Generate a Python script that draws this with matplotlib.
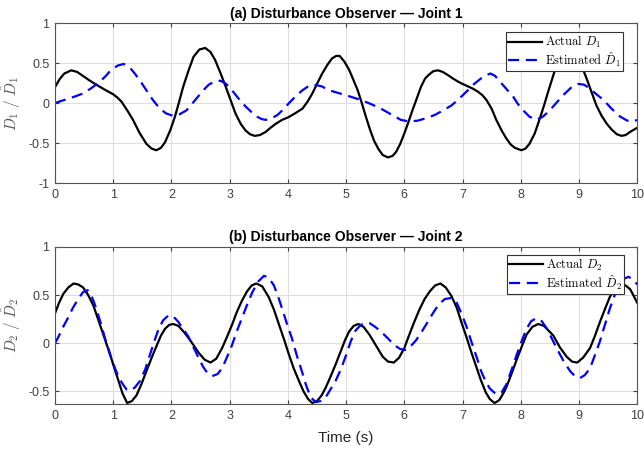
import matplotlib.pyplot as plt
import numpy as np

plt.rcParams['font.family'] = ['Liberation Sans', 'DejaVu Sans']
plt.rcParams['mathtext.fontset'] = 'cm'

# Joint 1: actual and estimated disturbance (time in s, value)
t_d1 = [0, 0.08, 0.16, 0.28, 0.38, 0.48, 0.6, 0.71, 0.85, 1.0, 1.07, 1.14, 1.24,
        1.34, 1.45, 1.57, 1.66, 1.74, 1.82, 1.89, 1.98, 2.06, 2.13, 2.2, 2.29,
        2.38, 2.48, 2.58, 2.67, 2.75, 2.84, 2.93, 3.02, 3.1, 3.19, 3.27, 3.35,
        3.43, 3.52, 3.62, 3.7, 3.79, 3.9, 4.0, 4.12, 4.25, 4.34, 4.42, 4.5,
        4.59, 4.68, 4.76, 4.83, 4.89, 4.97, 5.05, 5.12, 5.2, 5.27, 5.34, 5.41,
        5.48, 5.56, 5.63, 5.72, 5.8, 5.86, 5.93, 6.0, 6.07, 6.14, 6.22, 6.29,
        6.36, 6.43, 6.5, 6.58, 6.66, 6.75, 6.83, 6.92, 7.0, 7.09, 7.18, 7.27,
        7.34, 7.41, 7.5, 7.58, 7.67, 7.75, 7.83, 7.9, 8.01, 8.08, 8.15, 8.24,
        8.32, 8.4, 8.47, 8.53, 8.59, 8.66, 8.74, 8.82, 8.9, 8.98, 9.05, 9.13,
        9.22, 9.3, 9.39, 9.48, 9.56, 9.65, 9.73, 9.8, 9.88, 9.95, 10.0]
d1 = [0.20, 0.30, 0.37, 0.41, 0.39, 0.34, 0.28, 0.23, 0.17, 0.11, 0.07, 0.02,
      -0.09, -0.21, -0.37, -0.51, -0.57, -0.59, -0.56, -0.49, -0.34, -0.17,
      0.01, 0.20, 0.40, 0.58, 0.67, 0.69, 0.64, 0.54, 0.38, 0.21, 0.03, -0.13,
      -0.26, -0.34, -0.39, -0.41, -0.40, -0.36, -0.31, -0.26, -0.21, -0.18,
      -0.13, -0.07, 0.02, 0.12, 0.24, 0.37, 0.48, 0.56, 0.59, 0.59, 0.52, 0.42,
      0.30, 0.16, 0.00, -0.17, -0.33, -0.47, -0.58, -0.65, -0.68, -0.66, -0.61,
      -0.51, -0.38, -0.24, -0.09, 0.07, 0.21, 0.31, 0.36, 0.40, 0.41, 0.39,
      0.35, 0.31, 0.27, 0.24, 0.21, 0.18, 0.14, 0.10, 0.04, -0.07, -0.21,
      -0.34, -0.44, -0.52, -0.56, -0.59, -0.57, -0.51, -0.38, -0.21, -0.03,
      0.14, 0.28, 0.42, 0.54, 0.63, 0.67, 0.66, 0.58, 0.46, 0.31, 0.13, -0.03,
      -0.16, -0.26, -0.33, -0.39, -0.41, -0.40, -0.36, -0.33, -0.31]

t_d1_hat = [0, 0.12, 0.25, 0.37, 0.48, 0.61, 0.74, 0.86, 0.97, 1.08, 1.18, 1.28,
            1.37, 1.47, 1.57, 1.68, 1.8, 1.91, 2.03, 2.14, 2.26, 2.34, 2.41,
            2.49, 2.56, 2.64, 2.74, 2.84, 2.94, 3.04, 3.15, 3.27, 3.37, 3.47,
            3.55, 3.62, 3.72, 3.82, 3.92, 4.02, 4.14, 4.25, 4.35, 4.45, 4.58,
            4.71, 4.85, 4.99, 5.12, 5.25, 5.42, 5.6, 5.77, 5.94, 6.08, 6.23,
            6.37, 6.52, 6.67, 6.81, 6.95, 7.09, 7.2, 7.32, 7.41, 7.48, 7.56,
            7.64, 7.75, 7.87, 7.95, 8.04, 8.15, 8.27, 8.38, 8.5, 8.62, 8.73,
            8.86, 8.99, 9.09, 9.19, 9.3, 9.42, 9.56, 9.71, 9.83, 9.94, 10.0]
d1_hat = [0.0, 0.03, 0.06, 0.09, 0.12, 0.18, 0.25, 0.33, 0.42, 0.47, 0.49,
          0.45, 0.37, 0.27, 0.16, 0.04, -0.07, -0.13, -0.16, -0.14, -0.09,
          -0.02, 0.04, 0.11, 0.17, 0.23, 0.27, 0.28, 0.24, 0.16, 0.06, -0.04,
          -0.11, -0.17, -0.20, -0.21, -0.19, -0.15, -0.08, 0.0, 0.09, 0.16,
          0.21, 0.23, 0.21, 0.16, 0.13, 0.10, 0.07, 0.04, -0.01, -0.07, -0.14,
          -0.21, -0.23, -0.22, -0.19, -0.15, -0.09, -0.03, 0.06, 0.16, 0.24,
          0.31, 0.35, 0.37, 0.34, 0.27, 0.18, 0.08, -0.01, -0.09, -0.17, -0.21,
          -0.17, -0.09, 0.01, 0.10, 0.19, 0.24, 0.23, 0.18, 0.11, 0.04, -0.07,
          -0.17, -0.22, -0.23, -0.21]

# Joint 2: actual and estimated disturbance
t_d2 = [0, 0.07, 0.14, 0.23, 0.32, 0.4, 0.48, 0.57, 0.66, 0.74, 0.83, 0.92, 1.0,
        1.08, 1.16, 1.24, 1.32, 1.4, 1.48, 1.57, 1.66, 1.75, 1.82, 1.89, 1.96,
        2.03, 2.12, 2.21, 2.3, 2.38, 2.47, 2.57, 2.67, 2.77, 2.87, 2.95, 3.04,
        3.12, 3.21, 3.3, 3.38, 3.46, 3.56, 3.67, 3.76, 3.85, 3.94, 4.02, 4.1,
        4.19, 4.27, 4.35, 4.42, 4.5, 4.58, 4.65, 4.73, 4.82, 4.91, 4.98, 5.05,
        5.13, 5.21, 5.3, 5.4, 5.5, 5.63, 5.72, 5.82, 5.91, 6.0, 6.08, 6.17,
        6.26, 6.35, 6.44, 6.53, 6.62, 6.71, 6.81, 6.9, 6.98, 7.07, 7.15, 7.24,
        7.32, 7.4, 7.47, 7.55, 7.63, 7.7, 7.75, 7.84, 7.93, 8.02, 8.1, 8.2, 8.3,
        8.4, 8.48, 8.56, 8.67, 8.79, 8.88, 8.97, 9.07, 9.19, 9.27, 9.36, 9.45,
        9.53, 9.62, 9.71, 9.8, 9.88, 9.95, 10.0]
d2 = [0.31, 0.42, 0.51, 0.58, 0.62, 0.61, 0.58, 0.50, 0.39, 0.25, 0.09, -0.07,
      -0.22, -0.37, -0.52, -0.62, -0.60, -0.54, -0.43, -0.29, -0.15, -0.02,
      0.08, 0.15, 0.19, 0.20, 0.18, 0.12, 0.05, -0.02, -0.10, -0.17, -0.20,
      -0.16, -0.05, 0.06, 0.19, 0.32, 0.44, 0.54, 0.60, 0.62, 0.59, 0.48, 0.35,
      0.19, 0.03, -0.12, -0.26, -0.39, -0.50, -0.58, -0.62, -0.60, -0.54,
      -0.46, -0.35, -0.22, -0.08, 0.03, 0.12, 0.18, 0.20, 0.17, 0.09, -0.01,
      -0.14, -0.19, -0.20, -0.15, -0.05, 0.08, 0.22, 0.35, 0.46, 0.54, 0.60,
      0.62, 0.58, 0.49, 0.37, 0.22, 0.06, -0.09, -0.25, -0.39, -0.51, -0.58,
      -0.62, -0.59, -0.52, -0.46, -0.32, -0.17, -0.03, 0.09, 0.17, 0.20, 0.18,
      0.13, 0.08, -0.04, -0.14, -0.19, -0.20, -0.15, -0.05, 0.07, 0.22, 0.36,
      0.48, 0.57, 0.62, 0.60, 0.56, 0.48, 0.42]

t_d2_hat = [0, 0.07, 0.14, 0.22, 0.31, 0.4, 0.48, 0.56, 0.62, 0.68, 0.77, 0.86,
            0.95, 1.03, 1.1, 1.17, 1.23, 1.29, 1.37, 1.46, 1.55, 1.63, 1.7,
            1.78, 1.86, 1.95, 2.03, 2.12, 2.2, 2.29, 2.35, 2.41, 2.48, 2.55,
            2.62, 2.7, 2.79, 2.87, 2.95, 3.04, 3.12, 3.21, 3.3, 3.39, 3.49,
            3.59, 3.67, 3.76, 3.83, 3.9, 3.98, 4.07, 4.15, 4.24, 4.31, 4.39,
            4.48, 4.56, 4.65, 4.73, 4.82, 4.91, 4.99, 5.08, 5.16, 5.25, 5.32,
            5.4, 5.5, 5.6, 5.72, 5.83, 5.93, 6.03, 6.11, 6.2, 6.3, 6.4, 6.5,
            6.6, 6.7, 6.81, 6.9, 6.98, 7.07, 7.15, 7.24, 7.32, 7.4, 7.47, 7.58,
            7.67, 7.75, 7.84, 7.93, 8.02, 8.1, 8.18, 8.27, 8.36, 8.45, 8.55,
            8.65, 8.75, 8.85, 8.93, 9.02, 9.1, 9.19, 9.27, 9.36, 9.45, 9.53,
            9.62, 9.71, 9.78, 9.85, 9.93, 10.0]
d2_hat = [0.0, 0.08, 0.17, 0.26, 0.37, 0.46, 0.53, 0.55, 0.50, 0.41, 0.24,
          0.05, -0.12, -0.26, -0.36, -0.43, -0.48, -0.49, -0.46, -0.39, -0.27,
          -0.12, 0.01, 0.15, 0.24, 0.29, 0.28, 0.22, 0.15, 0.07, -0.01, -0.08,
          -0.17, -0.25, -0.31, -0.34, -0.32, -0.26, -0.15, -0.02, 0.12, 0.26,
          0.40, 0.53, 0.64, 0.70, 0.68, 0.60, 0.49, 0.36, 0.21, 0.05, -0.12,
          -0.29, -0.43, -0.56, -0.61, -0.60, -0.56, -0.48, -0.39, -0.27, -0.14,
          0.02, 0.13, 0.19, 0.21, 0.21, 0.17, 0.12, 0.05, -0.02, -0.06, -0.07,
          -0.03, 0.03, 0.12, 0.22, 0.32, 0.41, 0.46, 0.47, 0.42, 0.31, 0.17,
          0.02, -0.14, -0.29, -0.40, -0.47, -0.53, -0.51, -0.43, -0.28, -0.12,
          0.03, 0.15, 0.23, 0.26, 0.23, 0.15, 0.03, -0.09, -0.20, -0.29, -0.34,
          -0.36, -0.33, -0.26, -0.13, 0.02, 0.20, 0.36, 0.51, 0.63, 0.67, 0.69,
          0.66, 0.61]

x_ticks = list(range(0, 11))
y_ticks_1 = [-1, -0.5, 0, 0.5, 1]
y_ticks_2 = [-0.5, 0, 0.5, 1]

tick_grey = '#404040'

fig = plt.figure(figsize=(6.44, 4.49), dpi=100)
ax1 = fig.add_axes([0.0854, 0.5924, 0.904, 0.356])
ax2 = fig.add_axes([0.0854, 0.1002, 0.904, 0.350])


def style_axis(ax, yticks, ylim, title, ylabel):
    ax.set_xlim(0, 10)
    ax.set_ylim(*ylim)
    ax.set_xticks(x_ticks)
    ax.set_xticklabels([str(v) for v in x_ticks])
    ax.set_yticks(yticks)
    ax.set_yticklabels(['%g' % v for v in yticks])
    ax.grid(True, color='#dedede', lw=0.8)
    ax.set_axisbelow(True)
    ax.tick_params(direction='in', top=True, right=True, length=3,
                   labelsize=9, colors=tick_grey, pad=4)
    for s in ax.spines.values():
        s.set_color('#555555')
        s.set_linewidth(0.8)
    ax.set_title(title, fontsize=10, fontweight='bold', pad=4)
    ax.set_ylabel(ylabel, fontsize=11, color='#555555', labelpad=4)


dash = (0, (5, 3))

ax1.plot(t_d1, d1, color='k', lw=1.6, label=r'$\mathrm{Actual}\ D_1$')
ax1.plot(t_d1_hat, d1_hat, color='#0000ff', lw=1.6, ls=dash,
         label=r'$\mathrm{Estimated}\ \hat{D}_1$')
style_axis(ax1, y_ticks_1, (-1, 1), '(a) Disturbance Observer \u2014 Joint 1',
           r'$D_1\ /\ \hat{D}_1$')

ax2.plot(t_d2, d2, color='k', lw=1.6, label=r'$\mathrm{Actual}\ D_2$')
ax2.plot(t_d2_hat, d2_hat, color='#0000ff', lw=1.6, ls=dash,
         label=r'$\mathrm{Estimated}\ \hat{D}_2$')
style_axis(ax2, y_ticks_2, (-0.63, 1), '(b) Disturbance Observer \u2014 Joint 2',
           r'$D_2\ /\ \hat{D}_2$')
ax2.set_xlabel('Time (s)', fontsize=11, color='#262626', labelpad=7)

legend_anchor = {ax1: (0.976, 0.944), ax2: (0.978, 0.949)}
for ax in (ax1, ax2):
    leg = ax.legend(loc='upper right', fontsize=9, handlelength=2.7,
                    fancybox=False, framealpha=1, borderpad=0.15,
                    labelspacing=0.0, handletextpad=0.3, borderaxespad=0,
                    bbox_to_anchor=legend_anchor[ax])
    leg.get_frame().set_edgecolor('#333333')
    leg.get_frame().set_linewidth(0.8)

fig.savefig('out.png', dpi=100)
